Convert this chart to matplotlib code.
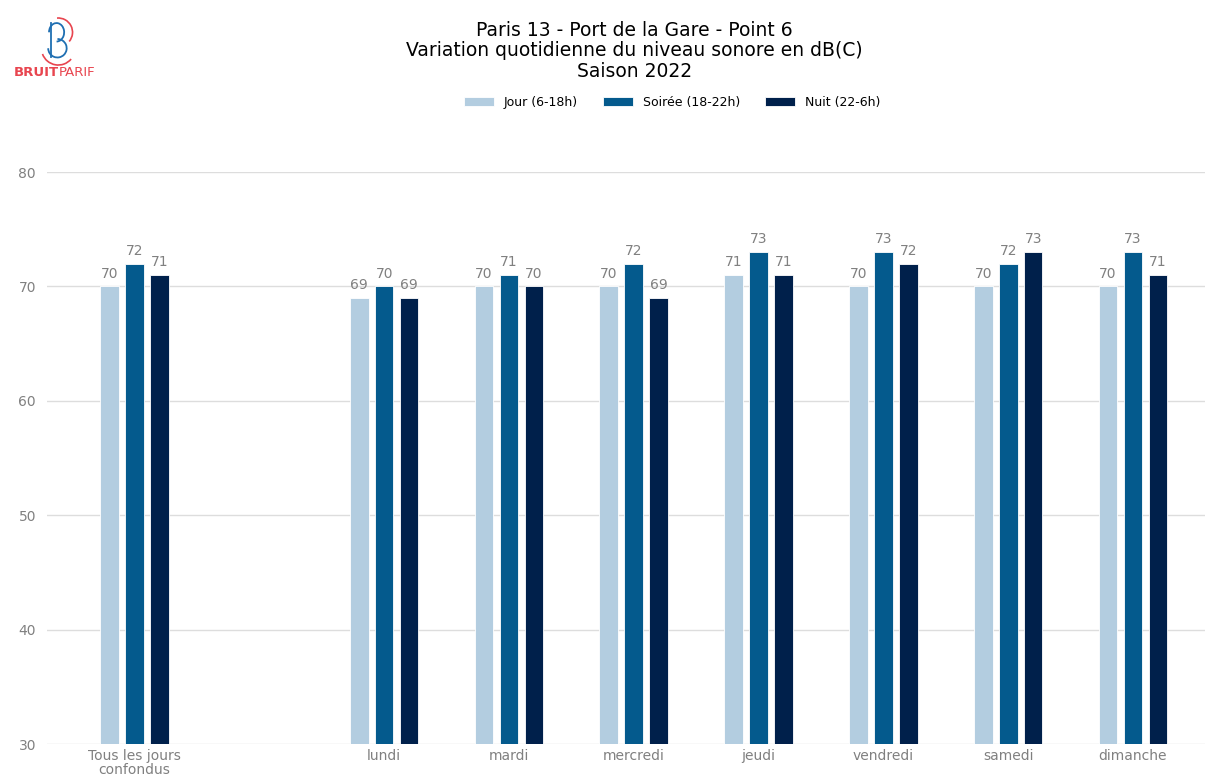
import numpy as np
import matplotlib.pyplot as plt
from matplotlib.patches import Arc

# Data
categories = ["Tous les jours\nconfondus", "lundi", "mardi", "mercredi",
              "jeudi", "vendredi", "samedi", "dimanche"]
positions = [0, 2, 3, 4, 5, 6, 7, 8]
jour = [70, 69, 70, 70, 71, 70, 70, 70]
soiree = [72, 70, 71, 72, 73, 73, 72, 73]
nuit = [71, 69, 70, 69, 71, 72, 73, 71]

series = [("Jour (6-18h)", jour, "#b3cde0"),
          ("Soirée (18-22h)", soiree, "#045a8d"),
          ("Nuit (22-6h)", nuit, "#00204b")]

fig = plt.figure(figsize=(12.09, 7.75), dpi=100)
ax = fig.add_axes([0.039, 0.04, 0.958, 0.738])

x = np.array(positions, dtype=float)
width = 0.15
offsets = [-0.2, 0, 0.2]
for (label, vals, color), off in zip(series, offsets):
    ax.bar(x + off, np.array(vals) - 30, width, bottom=30, color=color,
           edgecolor="white", linewidth=0.6, label=label, zorder=3)
    for xi, v in zip(x + off, vals):
        ax.text(xi, v + 0.5, str(v), ha="center", va="bottom",
                fontsize=10, color="#808080")

ax.set_ylim(30, 80)
ax.set_xlim(-0.7, 8.58)
ax.set_yticks([30, 40, 50, 60, 70, 80])
ax.set_xticks(x)
ax.set_xticklabels(categories, linespacing=1.0)
ax.tick_params(axis="both", length=0, colors="#808080", labelsize=10)
ax.tick_params(axis="y", pad=8)
ax.tick_params(axis="x", pad=3.5)
ax.grid(axis="y", color="#dddddd", linewidth=1, zorder=0)
for s in ax.spines.values():
    s.set_visible(False)

# Title
fig.text(0.525, 0.973, "Paris 13 - Port de la Gare - Point 6\n"
         "Variation quotidienne du niveau sonore en dB(C)\nSaison 2022",
         ha="center", va="top", fontsize=13.5, linespacing=1.1)

# Legend
fig.legend(loc="center", bbox_to_anchor=(0.556, 0.868), ncol=3, frameon=False,
           fontsize=9, handlelength=2.4, handleheight=0.7, columnspacing=2.0,
           handletextpad=0.8)

# Logo
lax = fig.add_axes([0.030, 0.915, 0.035, 0.065])
lax.set_xlim(-1, 1)
lax.set_ylim(-1.5, 1.5)
lax.set_aspect("equal")
lax.axis("off")
lax.plot([-0.4, -0.4], [-1.0, 1.05], color="#1f6fb2", lw=1.3)
lax.add_patch(Arc((-0.05, 0.5), 0.9, 1.1, theta1=-90, theta2=180, color="#1f6fb2", lw=1.3))
lax.add_patch(Arc((0.0, -0.45), 1.1, 1.1, theta1=-180, theta2=90, color="#1f6fb2", lw=1.3))
lax.add_patch(Arc((0.05, 0.5), 1.7, 1.7, theta1=-40, theta2=95, color="#e8454f", lw=1.2))
lax.add_patch(Arc((0.05, -0.45), 2.0, 2.0, theta1=200, theta2=320, color="#e8454f", lw=1.2))
fig.text(0.0485, 0.906, "BRUIT", color="#e8454f", fontsize=9.5, fontweight="bold",
         ha="right", va="center")
fig.text(0.0485, 0.906, "PARIF", color="#e8454f", fontsize=9.5,
         ha="left", va="center")

fig.savefig("out.png", dpi=100)
